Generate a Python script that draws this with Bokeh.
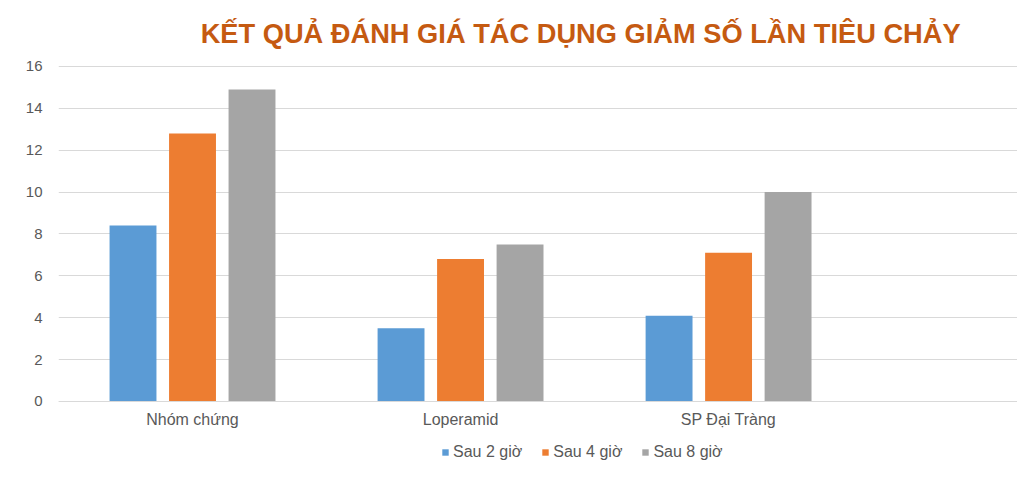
from bokeh.plotting import figure
from bokeh.models import Range1d, FixedTicker, Legend, LegendItem, ColumnDataSource, Label
from bokeh.embed import file_html
from bokeh.resources import INLINE

categories = ["Nhóm chứng", "Loperamid", "SP Đại Tràng"]
series_names = ["Sau 2 giờ", "Sau 4 giờ", "Sau 8 giờ"]
sau_2 = [8.4, 3.5, 4.1]
sau_4 = [12.8, 6.8, 7.1]
sau_8 = [14.9, 7.5, 10.0]
colors = ["#5B9BD5", "#ED7D31", "#A5A5A5"]
y_ticks = [0, 2, 4, 6, 8, 10, 12, 14, 16]
title_text = "KẾT QUẢ ĐÁNH GIÁ TÁC DỤNG GIẢM SỐ LẦN TIÊU CHẢY"

FONT = "Liberation Sans"
TXT = "#595959"

# frame covers whole canvas right of the y-axis; value axis 0..16 maps to 401..66 px
p = figure(width=1017, height=481, output_backend="svg", toolbar_location=None,
           x_range=Range1d(0, 3.578), y_range=Range1d(-3.821, 19.152),
           min_border_left=58, min_border_right=0, min_border_top=0, min_border_bottom=0)
p.outline_line_color = None
p.background_fill_color = "white"
p.border_fill_color = "white"

xs = [i + 0.5 for i in range(len(categories))]
offsets = [-0.222, 0.0, 0.222]
renderers = []
for vals, off, col in zip([sau_2, sau_4, sau_8], offsets, colors):
    src = ColumnDataSource(dict(x=[x + off for x in xs], top=vals))
    r = p.vbar(x="x", top="top", width=0.175, bottom=0, source=src,
               fill_color=col, line_color=None)
    renderers.append(r)

p.xaxis.fixed_location = 0
p.xaxis.ticker = FixedTicker(ticks=xs)
p.xaxis.major_label_overrides = {x: c for x, c in zip(xs, categories)}
p.xaxis.major_label_text_font = FONT
p.xaxis.major_label_text_font_size = "16px"
p.xaxis.major_label_text_color = TXT
p.xaxis.axis_line_color = "#D9D9D9"
p.xaxis.major_tick_line_color = None
p.xaxis.minor_tick_line_color = None
p.xaxis.major_label_standoff = 4
p.xgrid.grid_line_color = None

p.yaxis.ticker = FixedTicker(ticks=y_ticks)
p.yaxis.major_label_text_font = FONT
p.yaxis.major_label_text_font_size = "15px"
p.yaxis.major_label_text_color = TXT
p.yaxis.axis_line_color = None
p.yaxis.major_tick_line_color = None
p.yaxis.minor_tick_line_color = None
p.yaxis.major_label_standoff = 10
p.ygrid.grid_line_color = "#D9D9D9"
p.ygrid.ticker = FixedTicker(ticks=y_ticks)

title = Label(x=1.948, y=17.576, text=title_text, text_align="center", text_baseline="middle",
              text_font=FONT, text_font_size="27.25px", text_font_style="bold",
              text_color="#C55A11")
p.add_layout(title)

legend = Legend(items=[LegendItem(label=n, renderers=[r]) for n, r in zip(series_names, renderers)],
                orientation="horizontal", location=(383, 20),
                label_text_font=FONT, label_text_font_size="16px", label_text_color=TXT,
                glyph_width=8, glyph_height=8, label_standoff=4, spacing=19,
                padding=0, margin=0, border_line_color=None, background_fill_alpha=0)
p.add_layout(legend, "center")

open("out.html", "w").write(file_html(p, INLINE))
